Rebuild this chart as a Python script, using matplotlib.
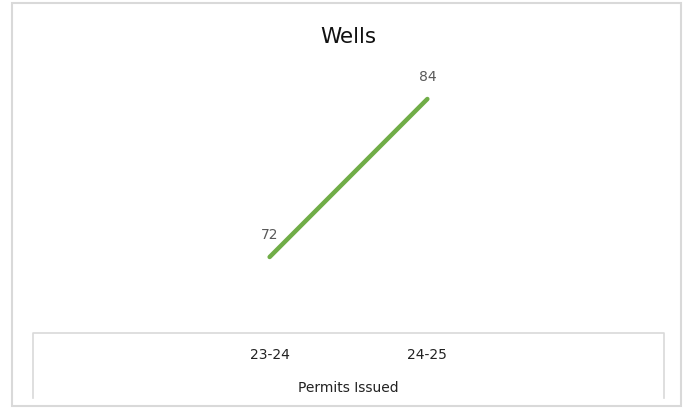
import matplotlib.pyplot as plt
from matplotlib.lines import Line2D
from matplotlib.patches import Rectangle

categories = ["23-24", "24-25"]
permits = [72, 84]
title = "Wells"
xlabel = "Permits Issued"

W, H = 690, 408
fig = plt.figure(figsize=(W / 100, H / 100), dpi=100)
fig.patch.set_facecolor("white")

def fx(px):
    return px / W

def fy(py):
    return 1 - py / H

# outer frame
fig.add_artist(Rectangle((fx(12), fy(406)), fx(681) - fx(12), fy(3) - fy(406),
                         transform=fig.transFigure, fill=False,
                         edgecolor="#d9d9d9", linewidth=1.5))
# inner box (bottom edge cut off)
fig.add_artist(Line2D([fx(33), fx(33), fx(664), fx(664)],
                      [fy(398), fy(333), fy(333), fy(398)],
                      transform=fig.transFigure, color="#d9d9d9", linewidth=1.2))

ax = fig.add_axes([fx(33), fy(333), fx(664) - fx(33), fy(60) - fy(333)])
x = list(range(len(categories)))
ax.plot(x, permits, color="#70ad47", linewidth=3.2, solid_capstyle="round")
ax.set_xlim(-1.5, 2.5)
ax.set_ylim(66.23, 86.96)

for xi, v in zip(x, permits):
    ax.annotate(str(v), (xi, v), xytext=(0, 10.5), textcoords="offset points",
                ha="center", va="bottom", fontsize=10, color="#595959")

ax.set_xticks(x)
ax.set_xticklabels(categories, fontsize=10, color="#222222")
ax.tick_params(axis="x", length=0, pad=11)
ax.set_yticks([])
for s in ax.spines.values():
    s.set_visible(False)
ax.patch.set_alpha(0)

fig.text(fx(348), fy(388), xlabel, ha="center", va="center", fontsize=10, color="#222222")
fig.text(fx(348), fy(37), title, ha="center", va="center", fontsize=15.5, color="#111111")

fig.savefig("out.png", dpi=100)
